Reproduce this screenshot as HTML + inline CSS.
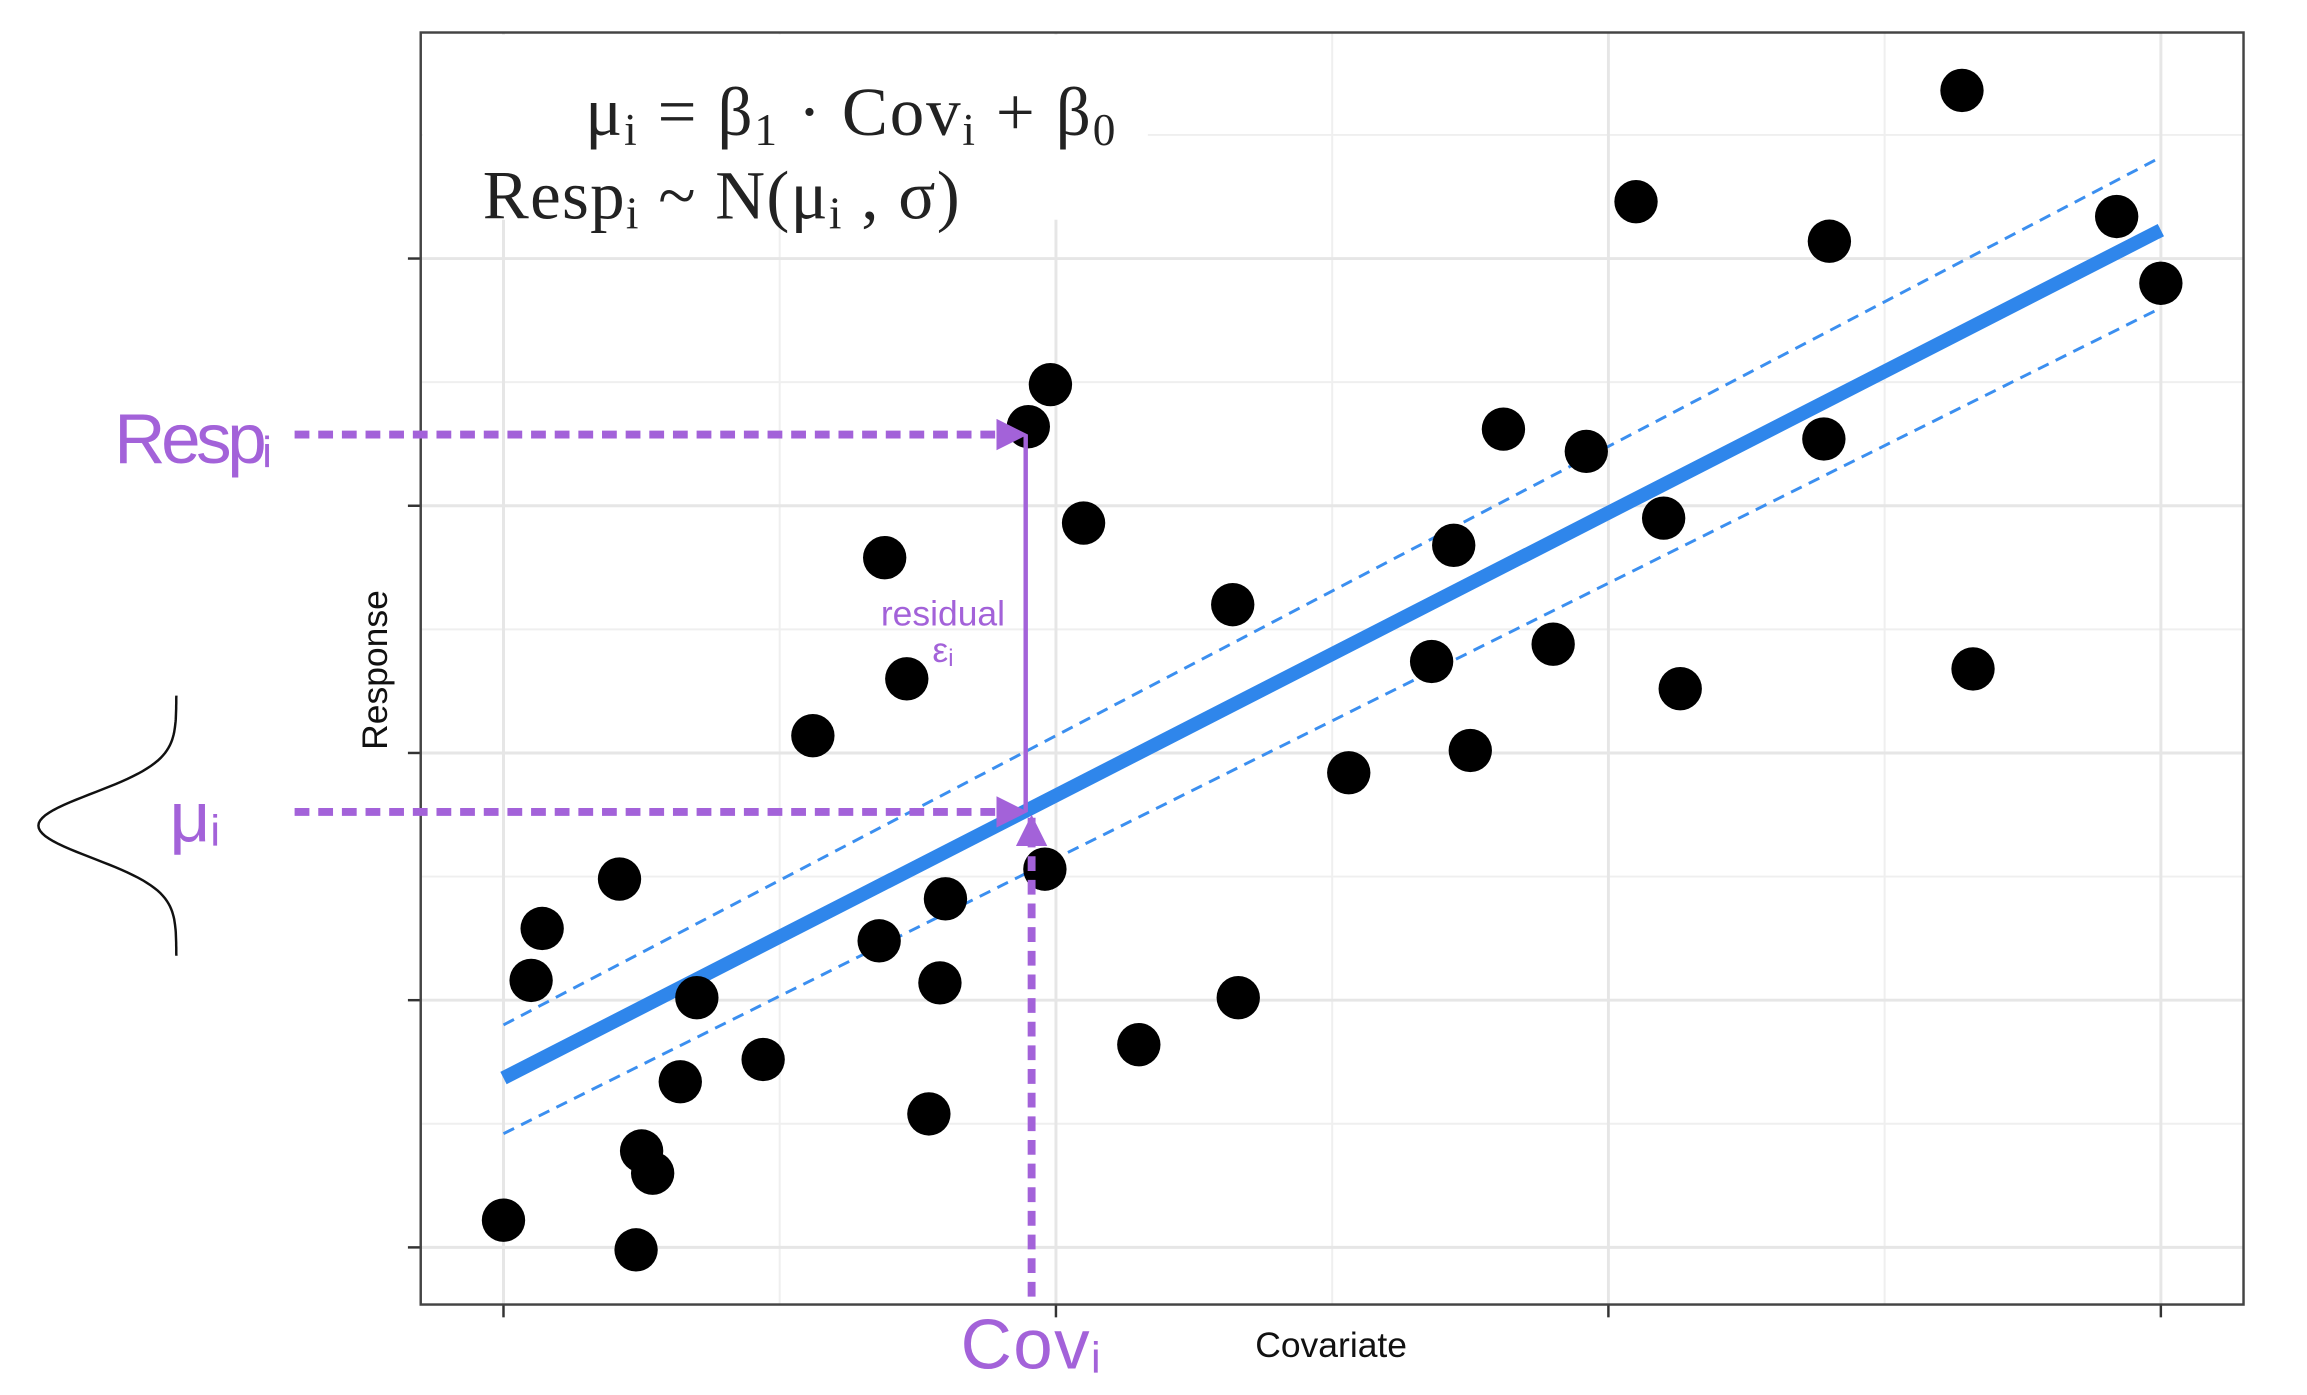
<!DOCTYPE html>
<html><head><meta charset="utf-8"><style>
html,body{margin:0;padding:0;background:#fff;}
svg{display:block;}
</style></head><body>
<svg id="chart" width="2307" height="1395" viewBox="0 0 2307 1395" xmlns="http://www.w3.org/2000/svg">
<defs>
<marker id="ah" viewBox="0 0 10 10" refX="9" refY="5" markerWidth="4" markerHeight="4" orient="auto-start-reverse"><path d="M0,0 L10,5 L0,10 z" fill="#a362d9"/></marker>
</defs>
<g transform="scale(0.9853)">
<g id="grid"></g>
<g id="fit"></g>
<g id="points"></g>
<rect x="429" y="35" width="736" height="188" fill="#fff"/>
<text x="594" y="137" textLength="538" font-family="Liberation Serif, serif" font-size="70" fill="#222">μ<tspan font-size="46" dy="10">i</tspan><tspan dy="-10"> = β</tspan><tspan font-size="46" dy="10">1</tspan><tspan dy="-10"> · Cov</tspan><tspan font-size="46" dy="10">i</tspan><tspan dy="-10"> + β</tspan><tspan font-size="46" dy="10">0</tspan></text>
<text x="490" y="222" textLength="484" font-family="Liberation Serif, serif" font-size="70" fill="#222">Resp<tspan font-size="46" dy="10">i</tspan><tspan dy="-10"> ~ N(μ</tspan><tspan font-size="46" dy="10">i</tspan><tspan dy="-10"> , σ)</tspan></text>
<rect x="427" y="33" width="1850" height="1291" fill="none" stroke="#444" stroke-width="2.5"/>
<text transform="translate(393,680) rotate(-90)" text-anchor="middle" font-family="Liberation Sans, sans-serif" font-size="36" fill="#111">Response</text>
<text x="1351" y="1377" text-anchor="middle" font-family="Liberation Sans, sans-serif" font-size="36" fill="#111">Covariate</text>
<g fill="#a362d9" stroke="#a362d9">
<line x1="299" y1="441" x2="1040" y2="441" stroke-width="8" stroke-dasharray="15 9" marker-end="url(#ah)"/>
<line x1="299" y1="824" x2="1040" y2="824" stroke-width="8" stroke-dasharray="15 9" marker-end="url(#ah)"/>
<line x1="1047" y1="1316" x2="1047" y2="830" stroke-width="8" stroke-dasharray="15 9" marker-end="url(#ah)"/>
<line x1="1041" y1="824" x2="1041" y2="441" stroke-width="4.5"/>
<text x="116" y="470" textLength="160" font-family="Liberation Sans, sans-serif" font-size="72" stroke="none">Resp<tspan font-size="44" dy="4">i</tspan></text>
<text x="172" y="854" font-family="Liberation Sans, sans-serif" font-size="72" stroke="none">μ<tspan font-size="44" dy="4">i</tspan></text>
<text x="975" y="1389" textLength="142" font-family="Liberation Sans, sans-serif" font-size="72" stroke="none">Cov<tspan font-size="44" dy="4">i</tspan></text>
<text x="957" y="635" text-anchor="middle" font-family="Liberation Sans, sans-serif" font-size="36" stroke="none">residual</text>
<text x="957" y="672" text-anchor="middle" font-family="Liberation Sans, sans-serif" font-size="36" stroke="none">ε<tspan font-size="24" dy="4">i</tspan></text>
</g>
<path id="bell" d="" fill="none" stroke="#111" stroke-width="2.5"/>
</g>
</svg>
<script>
const xs=[0.00,0.24,0.25,0.27,0.32,0.47,0.35,0.05,0.07,0.21,0.56,0.68,0.79,0.80,0.77,0.69,0.73,0.95,0.99,1.05,0.98,1.15,1.33,1.32,1.53,1.68,1.72,1.75,1.81,1.90,1.96,2.05,2.10,2.13,2.39,2.40,2.64,2.66,2.92,3.00];
const ys=[0.11,-0.01,0.39,0.30,0.67,0.76,1.01,1.08,1.29,1.49,2.07,1.24,1.07,1.41,0.54,2.79,2.30,3.32,3.49,2.93,1.53,0.82,1.01,2.60,1.92,2.37,2.84,2.01,3.31,2.44,3.22,4.23,2.95,2.26,3.27,4.07,4.68,2.34,4.17,3.90];
const fitX=[0,3];
const fitY=[0.685,4.115];
const upperY=[0.90,4.41];
const lowerY=[0.46,3.80];
const xMajor=[0,1,2,3];
const xMinor=[0.5,1.5,2.5];
const yMajor=[0,1,2,3,4];
const yMinor=[0.5,1.5,2.5,3.5,4.5];
const NS='http://www.w3.org/2000/svg';
const X=v=>511+v*560.7;
const Y=v=>1266-v*250.9;
function mk(tag,attrs,parent){const e=document.createElementNS(NS,tag);for(const k in attrs)e.setAttribute(k,attrs[k]);parent.appendChild(e);return e;}
const grid=document.getElementById('grid');
xMinor.forEach(v=>{const l=mk('line',{x1:X(v),x2:X(v),y1:33,y2:1324,stroke:'#efefef','stroke-width':2},grid);

});
yMinor.forEach(v=>{const l=mk('line',{x1:427,x2:2277,y1:Y(v),y2:Y(v),stroke:'#efefef','stroke-width':2},grid);

});
xMajor.forEach(v=>{const l=mk('line',{x1:X(v),x2:X(v),y1:33,y2:1324,stroke:'#e6e6e6','stroke-width':3},grid);


const t=mk('line',{x1:X(v),x2:X(v),y1:1324,y2:1337,stroke:'#333','stroke-width':2.5},grid);

});
yMajor.forEach(v=>{const l=mk('line',{x1:427,x2:2277,y1:Y(v),y2:Y(v),stroke:'#e6e6e6','stroke-width':3},grid);


const t=mk('line',{x1:414,x2:427,y1:Y(v),y2:Y(v),stroke:'#333','stroke-width':2.5},grid);

});
const fit=document.getElementById('fit');
const up=mk('line',{x1:X(fitX[0]),y1:Y(upperY[0]),x2:X(fitX[1]),y2:Y(upperY[1]),stroke:'#3b8ff0','stroke-width':3,'stroke-dasharray':'12 8'},fit);


const lo=mk('line',{x1:X(fitX[0]),y1:Y(lowerY[0]),x2:X(fitX[1]),y2:Y(lowerY[1]),stroke:'#3b8ff0','stroke-width':3,'stroke-dasharray':'12 8'},fit);


const fl=mk('line',{x1:X(fitX[0]),y1:Y(fitY[0]),x2:X(fitX[1]),y2:Y(fitY[1]),stroke:'#2f86eb','stroke-width':14},fit);


const pts=document.getElementById('points');
xs.forEach((v,i)=>{const c=mk('circle',{cx:X(v),cy:Y(ys[i]),r:22,fill:'#000'},pts);

});
// bell curve decoration
let d='';
for(let k=0;k<=100;k++){const t=-4+8*k/100;const yy=838+t*33;const xx=179-140*Math.exp(-t*t/2);d+=(k?'L':'M')+xx.toFixed(1)+','+yy.toFixed(1);}
document.getElementById('bell').setAttribute('d',d);
</script>
</body></html>
